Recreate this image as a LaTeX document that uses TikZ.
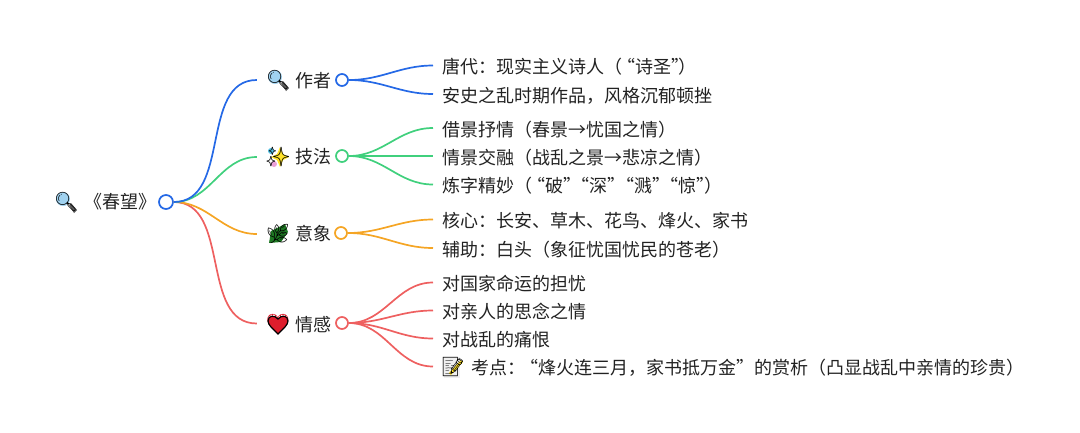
\documentclass[tikz,border=0pt]{standalone}
\usepackage{fontspec}
\usepackage{xcolor}
\setmainfont{Noto Sans CJK SC}
\newfontfamily\emojifont{Noto Emoji}
\definecolor{branchblue}{RGB}{37,105,230}
\definecolor{branchgreen}{RGB}{64,208,125}
\definecolor{branchorange}{RGB}{245,165,36}
\definecolor{branchred}{RGB}{238,96,96}
\definecolor{textdark}{RGB}{34,34,34}
\definecolor{lensblue}{RGB}{160,210,240}
\definecolor{sparkyellow}{RGB}{255,226,40}
\definecolor{sparkcyan}{RGB}{80,190,225}
\definecolor{sparkpink}{RGB}{235,160,215}
\definecolor{herbgreen}{RGB}{30,120,35}
\definecolor{heartred}{RGB}{222,30,45}
% narrow quote marks, the width is given in points
\newcommand{\qo}[1][13]{\makebox[#1pt][r]{“}}
\newcommand{\qc}[1][13.5]{\makebox[#1pt][l]{”}}
\tikzset{
  label/.style={font=\fontsize{18}{22}\selectfont, text=textdark, inner sep=0pt, text height=18pt, text depth=1.4pt},
  leaf/.style={label, anchor=west, inner ysep=0pt, inner xsep=9pt},
  emoji/.style={font=\fontsize{19}{22}\emojifont, text=black, inner sep=0pt, minimum width=42pt},
  dot/.style={circle, draw=#1, fill=white, line width=1.7pt, minimum size=12pt, inner sep=0pt},
  link/.style={draw=#1, line width=1.7pt, out=0, in=180},
  lens/.pic={
    \fill[lensblue] (-3,-3) circle (7);
    \fill[black!65] (3,3) -- (5,1) -- (11,8) -- (8,11) -- cycle;
  },
  sparkle/.pic={
    \fill[sparkyellow] (2,-10) -- (5,-3) -- (11,0) -- (5,3) -- (2,10) -- (-1,3) -- (-7,0) -- (-1,-3) -- cycle;
    \fill[sparkcyan] (-7,-6) circle (3);
    \fill[sparkpink] (-4,7) circle (3);
  },
  herb/.pic={
    \fill[herbgreen] (-9,9) -- (-7,-3) -- (7,-10) -- (10,-2) -- (3,8) -- cycle;
  },
  heart/.pic={
    \fill[heartred, draw=black, line width=1.2pt] (0,10) .. controls (-5,5) and (-10,1) .. (-10,-3) .. controls (-10,-9) and (-3,-9) .. (0,-5) .. controls (3,-9) and (10,-9) .. (10,-3) .. controls (10,1) and (5,5) .. (0,10) -- cycle;
  },
  memo/.pic={
    \fill[black!6] (-9,-10) rectangle (7,11);
    \fill[sparkyellow] (-4,6) -- (8,-7) -- (10,-5) -- (-2,8) -- cycle;
  },
}
\begin{document}
\begin{tikzpicture}[x=1pt,y=-1pt]
\useasboundingbox (0,0) rectangle (1080,432);
% root
\pic at (66,202) {lens};
\node[emoji] (rooticon) at (66,202) {🔍};
\node[label] (roottext) at (120.5,200.5) {《春望》};
\node[dot=branchblue, minimum size=14pt] (rootdot) at (166,202) {};
% author
\pic at (278,80) {lens};
\node[emoji] (authoricon) at (278,80) {🔍};
\node[label] (authortext) at (313,79.5) {作者};
\node[dot=branchblue] (authordot) at (342,80) {};
\node[leaf] (author1) at (433,65.5) {唐代：现实主义诗人（\qo 诗圣\qc[7.5]）};
\node[leaf] (author2) at (433,94) {安史之乱时期作品，风格沉郁顿挫};
% technique
\pic at (278,157) {sparkle};
\node[emoji] (skillicon) at (278,157) {✨};
\node[label] (skilltext) at (313,155.5) {技法};
\node[dot=branchgreen] (skilldot) at (342,156) {};
\node[leaf] (skill1) at (433,128) {借景抒情（春景→忧国之情）};
\node[leaf] (skill2) at (433,156) {情景交融（战乱之景→悲凉之情）};
\node[leaf] (skill3) at (433,184.5) {炼字精妙（\qo 破\qc\qo 深\qc\qo 溅\qc\qo 惊\qc[8]）};
% imagery
\pic at (278,234) {herb};
\node[emoji] (imageicon) at (278,234) {🌿};
\node[label] (imagetext) at (313,232.5) {意象};
\node[dot=branchorange] (imagedot) at (341,233) {};
\node[leaf] (image1) at (433,219.5) {核心：长安、草木、花鸟、烽火、家书};
\node[leaf] (image2) at (433,248) {辅助：白头（象征忧国忧民的苍老）};
% feeling
\node[emoji, text=heartred] (feelicon) at (278,323.5) {❤};
\pic at (278,324) {heart};
\node[label] (feeltext) at (313,323.5) {情感};
\node[dot=branchred] (feeldot) at (342,323) {};
\node[leaf] (feel1) at (433,282.5) {对国家命运的担忧};
\node[leaf] (feel2) at (433,310.5) {对亲人的思念之情};
\node[leaf] (feel3) at (433,338.5) {对战乱的痛恨};
\pic at (453,367) {memo};
\node[leaf] (feel4) at (433,366.5) {\hspace{29.5pt}考点：\qo 烽火连三月，家书抵万金\qc[17.5]的赏析（凸显战乱中亲情的珍贵）};
\node[emoji] (memoicon) at (453,367) {📝};
% branches
\draw[link=branchred] (rootdot.east) to (feelicon.west);
\draw[link=branchorange] (rootdot.east) to (imageicon.west);
\draw[link=branchgreen] (rootdot.east) to (skillicon.west);
\draw[link=branchblue] (rootdot.east) to (authoricon.west);
\draw[link=branchblue] (authordot.east) to (author1.west);
\draw[link=branchblue] (authordot.east) to (author2.west);
\draw[link=branchgreen] (skilldot.east) to (skill1.west);
\draw[link=branchgreen] (skilldot.east) to (skill2.west);
\draw[link=branchgreen] (skilldot.east) to (skill3.west);
\draw[link=branchorange] (imagedot.east) to (image1.west);
\draw[link=branchorange] (imagedot.east) to (image2.west);
\draw[link=branchred] (feeldot.east) to (feel1.west);
\draw[link=branchred] (feeldot.east) to (feel2.west);
\draw[link=branchred] (feeldot.east) to (feel3.west);
\draw[link=branchred] (feeldot.east) to (feel4.west);
\end{tikzpicture}
\end{document}
